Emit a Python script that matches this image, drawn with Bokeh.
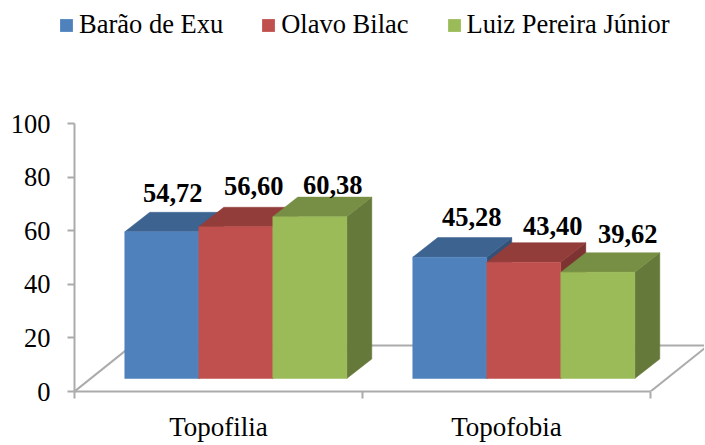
from bokeh.plotting import figure
from bokeh.layouts import column
from bokeh.models import (ColumnDataSource, Range1d, FixedTicker, Legend, LegendItem)
from bokeh.core.properties import value
from bokeh.embed import file_html
from bokeh.resources import INLINE

categories = ["Topofilia", "Topofobia"]
series = ["Barão de Exu", "Olavo Bilac", "Luiz Pereira Júnior"]
barao = [54.72, 45.28]
olavo = [56.60, 43.40]
luiz = [60.38, 39.62]
y_ticks = [0, 20, 40, 60, 80, 100]

front = ["#4F81BD", "#C0504D", "#9BBB59"]
top = ["#3D6390", "#933D3B", "#778F44"]
side = ["#33527A", "#7D3331", "#65793A"]
grey = "#ABABAB"
FONT = "Liberation Serif"

# pixels per category
px_x = 288.0

# 3D projection, in data units
bar_w = 0.257
dx, dy = 0.0868, 7.3
base = 4.85
group_shift = 0.56
floor_dx, floor_dy = 0.2, 17.2

# label offsets, in pixels from the middle of each bar's front top edge
label_dx = [[11, 18, 23], [22, 29, 30]]
label_dy = [[-39, -41, -32], [-40, -36, -38]]

p = figure(width=704, height=345, output_backend="svg", toolbar_location=None,
           x_range=Range1d(0, 630 / px_x), y_range=Range1d(0, 100),
           min_border_left=74, min_border_right=0, min_border_top=23, min_border_bottom=54)
p.outline_line_color = None
p.grid.visible = False
p.background_fill_color = "white"

# floor
p.line([0, floor_dx], [0, floor_dy], line_color=grey, line_width=2)
p.line([floor_dx, 2 + floor_dx], [floor_dy, floor_dy], line_color=grey, line_width=2)
p.line([2, 2 + floor_dx], [0, floor_dy], line_color=grey, line_width=2)

all_values = [barao, olavo, luiz]
for c, cat in enumerate(categories):
    for s, vals in enumerate(all_values):
        left = c + group_shift + (s - 1.5) * bar_w
        right = left + bar_w
        ytop = base + vals[c]
        p.patch([right, right + dx, right + dx, right],
                [base, base + dy, ytop + dy, ytop], fill_color=side[s], line_color=side[s], line_width=0.5)
        p.patch([left, left + dx, right + dx, right],
                [ytop, ytop + dy, ytop + dy, ytop], fill_color=top[s], line_color=top[s], line_width=0.5)
        p.quad(left=left, right=right, bottom=base, top=ytop,
               fill_color=front[s], line_color=front[s], line_width=0.5)

# value labels
lx, ly, lt, lox, loy = [], [], [], [], []
for c in range(len(categories)):
    for s, vals in enumerate(all_values):
        lx.append(c + group_shift + (s - 1) * bar_w)
        ly.append(base + vals[c])
        lt.append(f"{vals[c]:.2f}".replace(".", ","))
        lox.append(label_dx[c][s])
        loy.append(label_dy[c][s])
src = ColumnDataSource(dict(x=lx, y=ly, t=lt, ox=lox, oy=loy))
p.text("x", "y", text="t", x_offset="ox", y_offset="oy", source=src, text_align="center",
       text_baseline="middle", text_font=value(FONT), text_font_style="bold",
       text_font_size="26.5px", text_color="black")

# axes
p.yaxis.ticker = FixedTicker(ticks=y_ticks)
p.yaxis.axis_line_color = grey
p.yaxis.axis_line_width = 2
p.yaxis.major_tick_line_color = grey
p.yaxis.major_tick_line_width = 2
p.yaxis.major_tick_out = 7
p.yaxis.major_tick_in = 0
p.yaxis.minor_tick_line_color = None
p.yaxis.major_label_standoff = 17
p.yaxis.major_label_text_font = FONT
p.yaxis.major_label_text_font_size = "26.5px"
p.yaxis.major_label_text_color = "black"

p.xaxis.ticker = FixedTicker(ticks=[0.5, 1.5], minor_ticks=[0, 1, 2])
p.xaxis.major_label_overrides = {0.5: categories[0], 1.5: categories[1]}
p.xaxis.bounds = (0, 2)
p.xaxis.axis_line_color = grey
p.xaxis.axis_line_width = 2
p.xaxis.major_tick_line_color = None
p.xaxis.major_tick_out = 0
p.xaxis.major_tick_in = 0
p.xaxis.minor_tick_line_color = grey
p.xaxis.minor_tick_line_width = 2
p.xaxis.minor_tick_out = 7
p.xaxis.minor_tick_in = 0
p.xaxis.major_label_standoff = 13
p.xaxis.major_label_text_font = FONT
p.xaxis.major_label_text_font_size = "27px"
p.xaxis.major_label_text_color = "black"

# legend, in its own strip above the plot
lf = figure(width=704, height=100, output_backend="svg", toolbar_location=None,
            x_range=Range1d(0, 1), y_range=Range1d(0, 1), frame_align=False,
            x_axis_location=None, y_axis_location=None,
            min_border_left=0, min_border_right=0, min_border_top=0, min_border_bottom=0)
lf.outline_line_color = None
lf.grid.visible = False
items = []
for s, name in enumerate(series):
    r = lf.quad(left=[2], right=[3], bottom=[2], top=[3], fill_color=front[s], line_color=None)
    items.append(LegendItem(label=name, renderers=[r]))
legend = Legend(items=items, orientation="horizontal", location=(58, 60),
                padding=0, margin=0, spacing=37, label_standoff=5,
                glyph_width=16, glyph_height=16, border_line_color=None,
                background_fill_alpha=0, label_text_font=FONT,
                label_text_font_size="26.5px", label_text_color="black")
lf.add_layout(legend, "center")

layout = column(lf, p, spacing=0)
open("out.html", "w").write(file_html(layout, INLINE))
